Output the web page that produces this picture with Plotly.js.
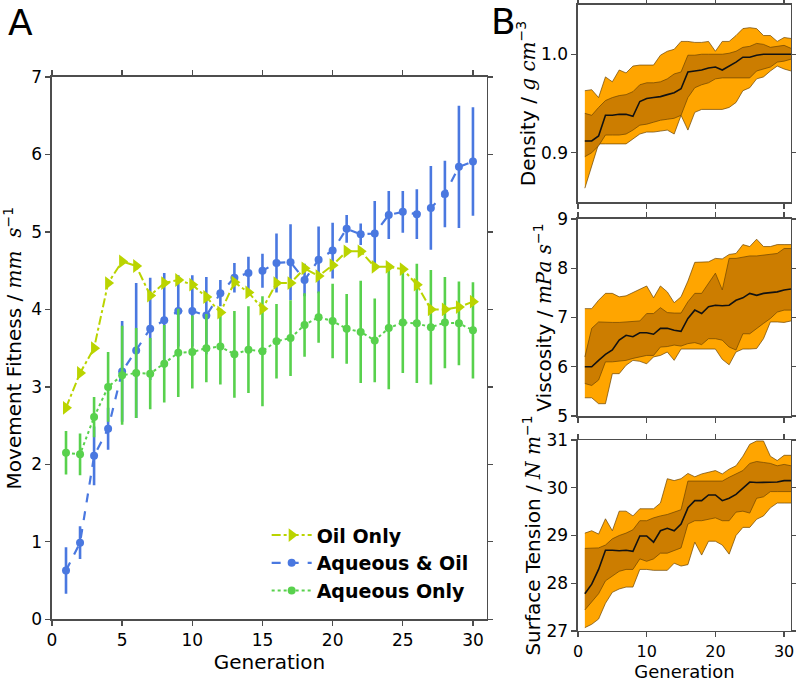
<!DOCTYPE html>
<html>
<head>
<meta charset="utf-8">
<script src="https://cdn.plot.ly/plotly-3.0.1.min.js"></script>
<style>html,body{margin:0;padding:0;background:#fff;}#chart{width:796px;height:682px;}</style>
</head>
<body>
<div id="chart"></div>
<script>
// ---------- Panel A data ----------
const generations = [1,2,3,4,5,6,7,8,9,10,11,12,13,14,15,16,17,18,19,20,21,22,23,24,25,26,27,28,29,30];
const oilOnly = [2.73,3.18,3.50,4.34,4.62,4.56,4.18,4.34,4.38,4.32,4.16,3.96,4.35,4.22,4.01,4.34,4.34,4.53,4.43,4.57,4.75,4.75,4.55,4.55,4.52,4.32,4.00,4.00,4.03,4.10];
const aqueousOil = [0.63,0.99,2.11,2.46,3.20,3.47,3.75,3.86,3.98,3.98,3.92,4.21,4.41,4.47,4.50,4.60,4.61,4.38,4.64,4.76,5.04,4.97,4.98,5.22,5.26,5.23,5.31,5.49,5.84,5.91];
const aqueousOilErr = [0.30,0.21,0.38,0.27,0.65,0.87,0.66,0.61,0.46,0.46,0.50,0.17,0.19,0.21,0.22,0.38,0.49,0.21,0.43,0.36,0.18,0.14,0.42,0.31,0.27,0.32,0.54,0.43,0.79,0.70];
const aqueousOnly = [2.15,2.13,2.61,3.00,3.15,3.18,3.17,3.30,3.44,3.45,3.50,3.52,3.42,3.48,3.46,3.59,3.63,3.80,3.90,3.85,3.75,3.71,3.60,3.76,3.83,3.82,3.77,3.83,3.82,3.73];
const aqueousOnlyErr = [0.28,0.27,0.26,0.45,0.64,0.58,0.46,0.50,0.57,0.47,0.44,0.49,0.56,0.56,0.71,0.48,0.49,0.41,0.33,0.48,0.45,0.66,0.54,0.79,0.65,0.77,0.74,0.59,0.54,0.62];
const legendNames = ["Oil Only","Aqueous & Oil","Aqueous Only"];

// ---------- Panel B data ----------
const genB = [1,2,3,4,5,6,7,8,9,10,11,12,13,14,15,16,17,18,19,20,21,22,23,24,25,26,27,28,29,30,31];
const densMed   = [0.912,0.912,0.917,0.938,0.938,0.939,0.939,0.937,0.952,0.955,0.956,0.957,0.959,0.961,0.965,0.982,0.983,0.984,0.986,0.987,0.984,0.988,0.992,0.997,0.997,0.999,1.000,1.000,1.000,1.000,1.000];
const densInHi  = [0.940,0.938,0.946,0.953,0.956,0.958,0.959,0.962,0.969,0.971,0.971,0.972,0.975,0.980,0.982,0.999,0.999,1.000,1.000,1.000,1.000,1.001,1.003,1.007,1.008,1.011,1.010,1.007,1.008,1.009,1.006];
const densInLo  = [0.896,0.900,0.907,0.918,0.918,0.918,0.919,0.923,0.928,0.929,0.931,0.933,0.934,0.935,0.938,0.956,0.966,0.969,0.971,0.975,0.976,0.976,0.976,0.976,0.976,0.983,0.985,0.987,0.992,0.993,0.995];
const densOutHi = [0.963,0.964,0.956,0.977,0.972,0.984,0.981,0.988,0.989,0.989,0.989,0.999,1.003,1.005,1.013,1.013,1.012,1.012,1.013,1.003,1.013,1.013,1.019,1.026,1.027,1.026,1.019,1.019,1.013,1.017,1.016];
const densOutLo = [0.864,0.887,0.909,0.909,0.909,0.909,0.909,0.914,0.919,0.921,0.921,0.922,0.923,0.919,0.938,0.923,0.941,0.944,0.944,0.944,0.944,0.946,0.951,0.963,0.966,0.975,0.977,0.983,0.988,0.985,0.983];

const viscMed   = [6.00,6.00,6.13,6.25,6.34,6.54,6.64,6.61,6.69,6.69,6.66,6.78,6.78,6.74,6.72,6.98,7.15,7.08,7.22,7.25,7.24,7.25,7.35,7.40,7.49,7.45,7.49,7.50,7.52,7.56,7.58];
const viscInHi  = [6.20,6.78,6.91,6.90,6.90,6.90,6.91,6.91,6.93,7.08,7.08,7.20,7.10,7.09,7.09,7.32,7.49,7.49,7.69,7.90,7.56,8.20,8.20,8.23,8.25,8.25,8.27,8.28,8.30,8.40,8.40];
const viscInLo  = [5.66,5.62,5.73,6.10,6.10,6.11,6.13,6.17,6.20,6.23,6.23,6.40,6.41,6.44,6.42,6.47,6.49,6.45,6.57,6.57,6.54,6.40,6.34,6.67,6.67,6.78,6.88,6.98,7.11,7.15,7.15];
const viscOutHi = [7.18,7.18,7.35,7.49,7.49,7.42,7.44,7.51,7.58,7.64,7.40,7.64,7.52,7.30,7.42,7.74,8.12,8.13,8.13,8.20,8.19,8.28,8.30,8.48,8.44,8.59,8.44,8.44,8.48,8.48,8.48];
const viscOutLo = [5.37,5.37,5.25,5.25,5.86,5.86,6.03,6.13,6.11,6.06,6.20,6.23,6.30,6.13,6.36,6.36,6.36,6.36,6.36,6.36,6.15,6.04,6.30,6.36,6.36,6.37,6.57,6.91,6.91,6.90,6.93];

const stMed   = [27.78,27.98,28.29,28.69,28.69,28.68,28.69,28.67,28.99,28.99,28.86,29.10,29.15,29.10,29.24,29.58,29.73,29.73,29.85,29.85,29.73,29.78,29.86,29.98,30.12,30.11,30.11,30.12,30.12,30.15,30.15];
const stInHi  = [28.73,28.73,28.74,28.80,28.93,29.00,29.05,29.12,29.31,29.31,29.37,29.41,29.44,29.49,29.54,30.14,30.14,30.14,30.14,30.14,30.14,30.22,30.29,30.36,30.51,30.55,30.53,30.51,30.46,30.49,30.46];
const stInLo  = [27.44,27.61,27.78,28.05,28.15,28.25,28.29,28.29,28.51,28.46,28.51,28.63,28.63,28.69,28.74,29.24,29.31,29.31,29.34,29.37,29.31,29.31,29.49,29.51,29.47,29.78,29.81,29.92,29.92,29.92,29.92];
const stOutHi = [29.05,29.10,29.03,29.35,29.10,29.51,29.51,29.41,29.56,29.56,29.56,29.68,30.19,30.15,30.19,30.30,30.23,30.29,30.32,30.36,30.29,30.39,30.46,30.66,30.91,30.98,30.98,30.66,30.57,30.68,30.68];
const stOutLo = [27.07,27.14,27.25,27.58,27.81,27.88,27.92,27.92,28.29,28.29,28.27,28.27,28.27,28.42,28.36,28.39,28.86,28.59,28.88,28.88,28.80,28.61,29.00,29.17,29.17,29.34,29.41,29.58,29.68,29.68,29.68];

// ---------- styles ----------
const FONT = "DejaVu Sans";
const cOil = "#bad400", cBlue = "#4a78e0", cGreen = "#58d14d";
const cLight = "#ffa500", cDark = "#cc7d00", cEdge = "#6b4400";
const axColor = "#4d4d4d";

const traces = [];
// Panel A
traces.push({
  x: generations, y: aqueousOil, name: legendNames[1], type: "scatter", mode: "lines+markers",
  xaxis: "x", yaxis: "y", legendrank: 2, legendgroup: "b",
  line: {color: cBlue, dash: "dash", width: 2.2},
  marker: {color: cBlue, size: 8, symbol: "circle"},
  error_y: {type: "data", array: aqueousOilErr, visible: true, color: cBlue, thickness: 2.6, width: 0}
});
traces.push({
  x: generations, y: aqueousOnly, name: legendNames[2], type: "scatter", mode: "lines+markers",
  xaxis: "x", yaxis: "y", legendrank: 3, legendgroup: "c",
  line: {color: cGreen, dash: "dot", width: 2},
  marker: {color: cGreen, size: 8, symbol: "circle"},
  error_y: {type: "data", array: aqueousOnlyErr, visible: true, color: cGreen, thickness: 2.6, width: 0}
});
traces.push({
  x: generations, y: oilOnly, name: legendNames[0], type: "scatter", mode: "lines+markers",
  xaxis: "x", yaxis: "y", legendrank: 1, legendgroup: "a",
  line: {color: cOil, dash: "dashdot", width: 2},
  marker: {color: cOil, size: 12, symbol: "triangle-right"}
});

// Panel B bands
function bands(xa, ya, outLo, outHi, inLo, inHi, med) {
  const base = {x: genB, type: "scatter", mode: "lines", xaxis: xa, yaxis: ya, showlegend: false,
                line: {color: cEdge, width: 0.7}};
  traces.push(Object.assign({}, base, {y: outLo}));
  traces.push(Object.assign({}, base, {y: outHi, fill: "tonexty", fillcolor: cLight}));
  traces.push(Object.assign({}, base, {y: inLo}));
  traces.push(Object.assign({}, base, {y: inHi, fill: "tonexty", fillcolor: cDark}));
  traces.push(Object.assign({}, base, {y: med, line: {color: "#111", width: 1.6}}));
}
bands("x2","y2", densOutLo, densOutHi, densInLo, densInHi, densMed);
bands("x3","y3", viscOutLo, viscOutHi, viscInLo, viscInHi, viscMed);
bands("x4","y4", stOutLo, stOutHi, stInLo, stInHi, stMed);

const baseAxis = {
  showline: true, linecolor: axColor, linewidth: 1.5, mirror: "ticks",
  ticks: "outside", ticklen: 5, tickwidth: 1.3, tickcolor: axColor,
  showgrid: false, zeroline: false, fixedrange: true,
  tickfont: {family: FONT, size: 17, color: "#000"}
};
const mathSpan = (t) => "<span style=\"font-family:DejaVu Serif;font-size:20px\"><i>" + t + "</i></span>";
const ax = (o) => Object.assign({}, baseAxis, o);

const layout = {
  width: 796, height: 682,
  margin: {l: 0, r: 0, t: 0, b: 0},
  paper_bgcolor: "#fff", plot_bgcolor: "#fff",
  font: {family: FONT, color: "#000"},
  showlegend: true,
  legend: {
    x: 0.335, y: 0.243, xanchor: "left", yanchor: "top",
    bgcolor: "rgba(0,0,0,0)", borderwidth: 0,
    font: {family: FONT, size: 19, weight: "bold", color: "#000"},
    traceorder: "grouped", tracegroupgap: 0, itemwidth: 40
  },
  xaxis: ax({domain: [0.0653, 0.6118], anchor: "y", range: [0, 31], tickvals: [0,5,10,15,20,25,30],
    title: {text: "Generation", font: {family: FONT, size: 20}, standoff: 4}}),
  yaxis: ax({domain: [0.0919, 0.8871], anchor: "x", range: [0, 7], tickvals: [0,1,2,3,4,5,6,7],
    title: {text: "Movement Fitness / " + mathSpan("mm&nbsp;&nbsp;s") + "<sup>−1</sup>", font: {family: FONT, size: 20}, standoff: 6}}),
  xaxis2: ax({domain: [0.7261, 0.9937], anchor: "y2", range: [0, 31], tickvals: [0,10,20,30], showticklabels: false}),
  yaxis2: ax({domain: [0.7038, 0.9927], anchor: "x2", range: [0.85, 1.05], tickvals: [0.9, 1.0], tickformat: ".1f",
    title: {text: "Density / " + mathSpan("g&nbsp;cm") + "<sup>−3</sup>", font: {family: FONT, size: 20}, standoff: 0}}),
  xaxis3: ax({domain: [0.7261, 0.9937], anchor: "y3", range: [0, 31], tickvals: [0,10,20,30], showticklabels: false}),
  yaxis3: ax({domain: [0.3900, 0.6789], anchor: "x3", range: [5, 9], tickvals: [5,6,7,8,9],
    title: {text: "Viscosity / " + mathSpan("mPa&nbsp;s") + "<sup>−1</sup>", font: {family: FONT, size: 20}, standoff: 0}}),
  xaxis4: ax({domain: [0.7261, 0.9937], anchor: "y4", range: [0, 31], tickvals: [0,10,20,30],
    tickfont: {family: FONT, size: 16, color: "#000"},
    title: {text: "Generation", font: {family: FONT, size: 18}, standoff: 4}}),
  yaxis4: ax({domain: [0.0748, 0.3548], anchor: "x4", range: [27, 31], tickvals: [27,28,29,30,31],
    title: {text: "Surface Tension / " + mathSpan("N&nbsp;m") + "<sup>−1</sup>", font: {family: FONT, size: 20}, standoff: 0}}),
  annotations: [
    {text: "A", xref: "paper", yref: "paper", x: 20/796, y: 1 - 23/682, xanchor: "center", yanchor: "middle",
     showarrow: false, font: {family: FONT, size: 36, color: "#000"}},
    {text: "B", xref: "paper", yref: "paper", x: 503/796, y: 1 - 22/682, xanchor: "center", yanchor: "middle",
     showarrow: false, font: {family: FONT, size: 36, color: "#000"}}
  ]
};

Plotly.newPlot("chart", traces, layout, {displayModeBar: false, staticPlot: true});
</script>
</body>
</html>
